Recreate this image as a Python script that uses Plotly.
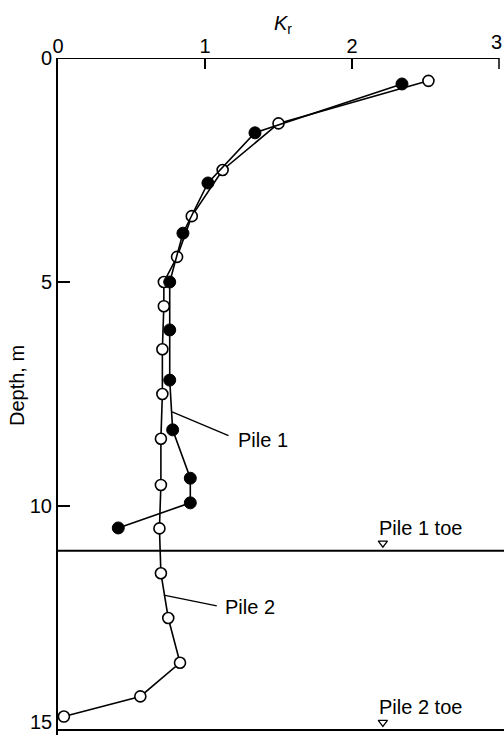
import plotly.graph_objects as go

# Pile 1 (closed circles): K_r against depth (m)
pile1_kr = [2.34, 1.34, 1.02, 0.85, 0.76, 0.76, 0.76, 0.78, 0.90, 0.90, 0.41]
pile1_depth = [0.58, 1.67, 2.79, 3.91, 5.0, 6.07, 7.19, 8.3, 9.38, 9.93, 10.49]

# Pile 2 (open circles)
pile2_kr = [2.52, 1.50, 1.12, 0.91, 0.81, 0.72, 0.72, 0.71, 0.71, 0.70, 0.70,
            0.69, 0.70, 0.75, 0.83, 0.56, 0.04]
pile2_depth = [0.51, 1.46, 2.5, 3.53, 4.44, 5.0, 5.54, 6.5, 7.5, 8.5, 9.53,
               10.5, 11.5, 12.5, 13.5, 14.25, 14.7]

# Toe depths of the two piles
toe_labels = ["Pile 1 toe", "Pile 2 toe"]
toe_depths = [11.0, 15.0]

x_ticks = [0, 1, 2, 3]
y_ticks = [0, 5, 10, 15]

FONT = "Liberation Sans, Arial, Helvetica, sans-serif"
FS = 20

fig = go.Figure()

fig.add_trace(go.Scatter(
    x=pile2_kr, y=pile2_depth, mode="lines+markers",
    line=dict(color="black", width=1.6),
    marker=dict(symbol="circle", size=11, color="white",
                line=dict(color="black", width=1.6)),
    showlegend=False, hoverinfo="skip"))

fig.add_trace(go.Scatter(
    x=pile1_kr, y=pile1_depth, mode="lines+markers",
    line=dict(color="black", width=1.6),
    marker=dict(symbol="circle", size=12, color="black",
                line=dict(color="black", width=1)),
    showlegend=False, hoverinfo="skip"))

# Toe lines, each with a small open triangle marker and label
for lab, d in zip(toe_labels, toe_depths):
    fig.add_shape(type="line", xref="x", yref="y", x0=0, x1=3.1, y0=d, y1=d,
                  line=dict(color="black", width=2))
    fig.add_trace(go.Scatter(
        x=[2.21], y=[d - 0.17], mode="markers",
        marker=dict(symbol="triangle-down-open", size=8,
                    color="black", line=dict(width=1.3)),
        showlegend=False, hoverinfo="skip"))
    fig.add_annotation(x=2.17, y=d - 0.52, xref="x", yref="y", text=lab,
                       showarrow=False, xanchor="left", yanchor="middle",
                       font=dict(family=FONT, size=FS, color="black"))

# Leader lines and pile labels
fig.add_shape(type="line", xref="x", yref="y", x0=0.776, y0=7.9, x1=1.16, y1=8.43,
              line=dict(color="black", width=1.4))
fig.add_annotation(x=1.21, y=8.52, xref="x", yref="y", text="Pile 1",
                   showarrow=False, xanchor="left", yanchor="middle",
                   font=dict(family=FONT, size=FS, color="black"))
fig.add_shape(type="line", xref="x", yref="y", x0=0.72, y0=11.99, x1=1.08, y1=12.23,
              line=dict(color="black", width=1.4))
fig.add_annotation(x=1.12, y=12.25, xref="x", yref="y", text="Pile 2",
                   showarrow=False, xanchor="left", yanchor="middle",
                   font=dict(family=FONT, size=FS, color="black"))

# Top axis line ends at K_r = 3
fig.add_shape(type="line", xref="x", yref="y", x0=0, x1=x_ticks[-1], y0=0, y1=0,
              line=dict(color="black", width=2))

# Last tick on each axis sits at the page edge: tick mark and label kept inside
fig.add_shape(type="line", xref="x", yref="paper", x0=x_ticks[-1], x1=x_ticks[-1],
              y0=1, y1=1 - 11 / 677, line=dict(color="black", width=1.5))
fig.add_shape(type="line", xref="paper", yref="y", x0=0, x1=12 / 446,
              y0=y_ticks[-1], y1=y_ticks[-1], line=dict(color="black", width=1.5))
fig.add_annotation(x=1.0, y=1 + 3 / 677, xref="paper", yref="paper",
                   text=str(x_ticks[-1]), showarrow=False,
                   xanchor="right", yanchor="bottom",
                   font=dict(family=FONT, size=FS, color="black"))
fig.add_annotation(x=-4 / 446, y=0, xref="paper", yref="paper",
                   text=str(y_ticks[-1]), showarrow=False,
                   xanchor="right", yanchor="bottom",
                   font=dict(family=FONT, size=FS, color="black"))

# Axis titles
fig.add_annotation(x=(283 - 58) / 446, y=1 + (58 - 24) / 677, xref="paper", yref="paper",
                   text="<i>K</i><sub>r</sub>", showarrow=False,
                   xanchor="center", yanchor="middle",
                   font=dict(family=FONT, size=FS, color="black"))
fig.add_annotation(x=(17 - 58) / 446, y=1 - (386 - 58) / 677, xref="paper", yref="paper",
                   text="Depth, m", textangle=-90, showarrow=False,
                   xanchor="center", yanchor="middle",
                   font=dict(family=FONT, size=FS, color="black"))

fig.update_layout(
    width=504, height=735,
    margin=dict(l=58, r=0, t=58, b=0),
    paper_bgcolor="white", plot_bgcolor="white",
    font=dict(family=FONT, size=FS, color="black"),
    xaxis=dict(side="top", range=[0, 446 / 147], tickvals=x_ticks[:-1],
               ticktext=[str(v) for v in x_ticks[:-1]],
               ticks="inside", ticklen=11, tickwidth=1.5, tickcolor="black",
               showline=False, showgrid=False, zeroline=False,
               fixedrange=True),
    yaxis=dict(range=[677 / 44.8, 0], tickvals=y_ticks[:-1],
               ticktext=[str(v) for v in y_ticks[:-1]],
               ticks="inside", ticklen=12, tickwidth=1.5, tickcolor="black",
               showline=True, linecolor="black", linewidth=2,
               showgrid=False, zeroline=False, fixedrange=True),
)

fig.write_html("out.html")
